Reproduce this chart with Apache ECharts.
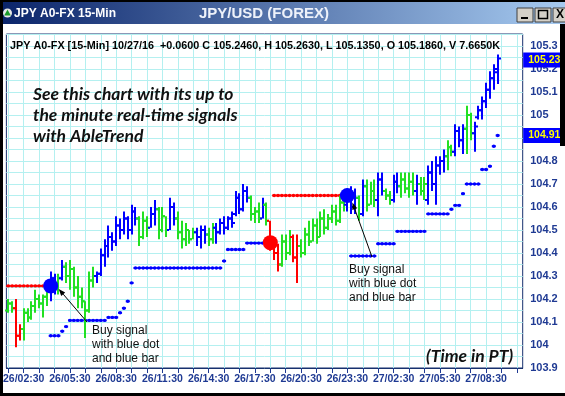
<!DOCTYPE html>
<html><head><meta charset="utf-8">
<script src="https://cdn.jsdelivr.net/npm/echarts@6/dist/echarts.min.js"></script>
<style>html,body{margin:0;padding:0;background:#fff;overflow:hidden}#c{width:565px;height:396px}</style>
</head><body><div id="c"></div>
<script>
// ---------- data ----------
const tickLabels = ['26/02:30','26/05:30','26/08:30','26/11:30','26/14:30','26/17:30','26/20:30','26/23:30','27/02:30','27/05:30','27/08:30'];
const yTicks = [103.9,104,104.1,104.2,104.3,104.4,104.5,104.6,104.7,104.8,104.9,105,105.1,105.2,105.3];
const highs = [
104.20,104.19,104.20,104.09,104.16,104.16,104.19,104.24,104.22,104.22,
104.26,104.32,104.31,104.31,104.37,104.36,104.37,104.34,104.30,104.25,
104.19,104.32,104.34,104.32,104.42,104.46,104.52,104.49,104.56,104.55,
104.58,104.56,104.61,104.60,104.56,104.58,104.56,104.60,104.63,104.60,
104.60,104.56,104.64,104.62,104.58,104.54,104.53,104.50,104.51,104.51,
104.52,104.52,104.51,104.53,104.53,104.55,104.56,104.56,104.58,104.67,
104.66,104.70,104.69,104.65,104.60,104.62,104.64,104.62,104.54,104.46,
104.44,104.48,104.48,104.50,104.48,104.48,104.46,104.51,104.54,104.55,
104.55,104.58,104.59,104.57,104.61,104.61,104.65,104.67,104.68,104.69,
104.68,104.65,104.72,104.72,104.71,104.72,104.75,104.75,104.68,104.67,
104.74,104.75,104.75,104.75,104.75,104.75,104.74,104.73,104.73,104.78,
104.80,104.82,104.82,104.85,104.89,104.87,104.96,104.95,104.96,105.04,
105.01,104.97,105.04,105.08,105.14,105.19,105.22,105.263];
const lows = [
104.14,104.14,103.99,104.02,104.02,104.10,104.11,104.14,104.16,104.12,
104.17,104.19,104.22,104.22,104.28,104.27,104.24,104.21,104.16,104.16,
104.03,104.14,104.25,104.27,104.30,104.34,104.38,104.41,104.43,104.46,
104.48,104.46,104.48,104.52,104.43,104.46,104.47,104.51,104.52,104.46,
104.49,104.47,104.50,104.52,104.46,104.42,104.43,104.44,104.46,104.43,
104.42,104.44,104.43,104.44,104.44,104.48,104.48,104.50,104.51,104.56,
104.57,104.58,104.62,104.54,104.53,104.53,104.55,104.52,104.41,104.37,
104.32,104.34,104.37,104.39,104.36,104.27,104.38,104.39,104.43,104.45,
104.44,104.47,104.48,104.50,104.53,104.52,104.53,104.58,104.58,104.57,
104.57,104.54,104.56,104.58,104.61,104.60,104.56,104.65,104.63,104.61,
104.62,104.66,104.64,104.66,104.64,104.65,104.61,104.65,104.63,104.61,
104.67,104.61,104.74,104.75,104.76,104.82,104.82,104.86,104.83,104.83,
104.89,104.84,104.98,104.98,105.03,105.07,105.11,105.135];
const opens = [
104.15,104.18,104.16,104.04,104.07,104.14,104.12,104.17,104.20,104.18,
104.21,104.24,104.29,104.26,104.29,104.34,104.30,104.33,104.25,104.21,
104.19,104.15,104.28,104.30,104.31,104.39,104.43,104.47,104.45,104.52,
104.50,104.55,104.50,104.58,104.55,104.47,104.54,104.51,104.57,104.59,
104.50,104.56,104.50,104.60,104.55,104.49,104.46,104.50,104.46,104.49,
104.47,104.50,104.48,104.46,104.51,104.49,104.53,104.51,104.55,104.57,
104.64,104.59,104.67,104.64,104.57,104.58,104.55,104.61,104.54,104.44,
104.40,104.35,104.45,104.40,104.47,104.38,104.43,104.40,104.48,104.45,
104.52,104.47,104.55,104.51,104.55,104.58,104.54,104.62,104.61,104.66,
104.60,104.64,104.57,104.69,104.61,104.67,104.63,104.72,104.67,104.65,
104.63,104.71,104.69,104.72,104.68,104.71,104.67,104.70,104.67,104.63,
104.75,104.70,104.78,104.80,104.82,104.86,104.84,104.93,104.89,104.94,
105.00,104.92,104.99,105.02,105.06,105.11,105.16,105.186];
const closes = [
104.18,104.16,104.04,104.07,104.14,104.12,104.17,104.20,104.18,104.21,
104.24,104.29,104.26,104.29,104.34,104.30,104.33,104.25,104.21,104.19,
104.15,104.28,104.30,104.31,104.39,104.43,104.47,104.45,104.52,104.50,
104.55,104.50,104.58,104.55,104.47,104.54,104.51,104.57,104.59,104.50,
104.56,104.50,104.60,104.55,104.49,104.46,104.50,104.46,104.49,104.47,
104.50,104.48,104.46,104.51,104.49,104.53,104.51,104.55,104.53,104.64,
104.59,104.67,104.64,104.57,104.58,104.55,104.61,104.54,104.44,104.40,
104.35,104.45,104.40,104.47,104.38,104.43,104.40,104.48,104.45,104.52,
104.47,104.55,104.51,104.55,104.58,104.54,104.62,104.64,104.66,104.60,
104.64,104.57,104.69,104.61,104.67,104.63,104.72,104.67,104.65,104.63,
104.71,104.69,104.72,104.68,104.71,104.67,104.70,104.67,104.70,104.75,
104.70,104.78,104.80,104.82,104.86,104.84,104.93,104.89,104.94,105.00,
104.92,104.95,105.02,105.06,105.11,105.16,105.20,105.246];
// trend colour of each bar: r = down, g = neutral, b = up
const trend = ('ggrrggggggg' + 'bbgbgggggggg' + 'bbbbbbbbbbb' + 'gggbbgggbbggggg' +
  'bbbggbbbbbbbbb' + 'gggbg' + 'rrr' + 'gggrr' + 'gggggggggggg' + 'bbbgbgggbbgg' +
  'bbggggbgg' + 'bbbbbggbbbggb' + 'bbbbbb').split('');
// AbleTrend stop dots: [firstBar, lastBar, level]
const stopBlue = [[11,13,104.04],[14,14,104.06],[15,15,104.08],[16,25,104.107],[26,28,104.12],
  [29,29,104.14],[30,30,104.16],[31,31,104.19],[32,32,104.27],[33,55,104.335],[56,56,104.365],
  [57,61,104.415],[62,67,104.443],[89,95,104.387],[96,100,104.44],[101,108,104.494],
  [109,114,104.57],[115,115,104.59],[116,117,104.607],[118,118,104.658],[119,122,104.70],
  [123,124,104.763],[125,125,104.777],[126,126,104.864],[127,127,104.911]];
const stopRed = [[0,10,104.257],[69,87,104.65]];
// signal dots: [bar, level, colour]
const signals = [[11,104.257,'b'],[68,104.445,'r'],[88,104.65,'b']];
// right-hand value flags
const flags = [105.239, 104.911];

// ---------- build ----------
const N_CAT = 134;
const categories = [];
for (let i = 0; i < N_CAT; i++) {
  const m = 90 + 15 * i; const d = 26 + Math.floor(m / 1440); const mm = m % 1440;
  categories.push(d + '/' + String(Math.floor(mm / 60)).padStart(2, '0') + ':' + String(mm % 60).padStart(2, '0'));
}
const COLORS = {r:'#ff0000', g:'#22e022', b:'#0000ff'};
const CIDX = {r:0, g:1, b:2};
const CLIST = ['#ff0000', '#22e022', '#0000ff'];
const ohlcData = highs.map((h, i) => [i, opens[i], closes[i], lows[i], h, CIDX[trend[i]]]);
const stopData = [];
stopBlue.forEach(s => { for (let i = s[0]; i <= s[1]; i++) stopData.push([i, s[2], 2]); });
stopRed.forEach(s => { for (let i = s[0]; i <= s[1]; i++) stopData.push([i, s[2], 0]); });

const chart = echarts.init(document.getElementById('c'), null, {renderer: 'canvas'});
const AX = '#1f3a93';
const GRIDC = '#b4f0f0';
const FONT = 'Liberation Sans, Arial, sans-serif';

function arrow(x1, y1, x2, y2) {
  const dx = x2 - x1, dy = y2 - y1, L = Math.hypot(dx, dy), ux = dx / L, uy = dy / L;
  const bx = x2 - 7 * ux, by = y2 - 7 * uy, px = -uy * 2.6, py = ux * 2.6;
  return [
    {type: 'line', shape: {x1: x1, y1: y1, x2: bx, y2: by}, style: {stroke: '#000', lineWidth: 1}, z: 50},
    {type: 'polygon', shape: {points: [[x2, y2], [bx + px, by + py], [bx - px, by - py]]}, style: {fill: '#000'}, z: 50}
  ];
}

const option = {
  animation: false,
  backgroundColor: '#ffffff',
  grid: {left: 5, right: 42.3, top: 34, bottom: 28, show: true, borderColor: '#17306e', borderWidth: 1, backgroundColor: 'transparent'},
  xAxis: {
    type: 'category', data: categories, boundaryGap: true,
    axisLine: {show: true, lineStyle: {color: '#17306e'}},
    axisTick: {show: true, alignWithLabel: true, length: 5, interval: (i) => i % 4 === 0, lineStyle: {color: AX}},
    axisLabel: {interval: (i, v) => tickLabels.indexOf(v) >= 0, color: AX, fontWeight: 'bold', fontSize: 10.5, fontFamily: FONT, margin: 6},
    splitLine: {show: true, alignWithLabel: true, interval: (i) => i % 4 === 0, lineStyle: {color: GRIDC, width: 1}}
  },
  yAxis: {
    type: 'value', position: 'right', min: 103.9, max: 105.352, interval: 0.1,
    axisLine: {show: false}, axisTick: {show: false},
    axisLabel: {showMaxLabel: false, showMinLabel: true, color: AX, fontWeight: 'bold', fontSize: 11, fontFamily: FONT, margin: 7.5, align: 'left',
      formatter: v => { const r = Math.round(v * 10) / 10; return yTicks.indexOf(r) >= 0 ? String(r) : ''; }},
    splitLine: {show: true, lineStyle: {color: GRIDC}},
    minorTick: {show: false, splitNumber: 2},
    minorSplitLine: {show: true, lineStyle: {color: GRIDC}}
  },
  series: [
    {
      type: 'custom', name: 'stops', z: 3, data: stopData, encode: {x: 0, y: 1},
      renderItem: (params, api) => {
        const p = api.coord([api.value(0), api.value(1)]);
        const c = CLIST[api.value(2)];
        return {type: 'group', children: [
          {type: 'rect', shape: {x: p[0] - 2, y: p[1] - 1, width: 4, height: 2}, style: {fill: c}},
          {type: 'circle', shape: {cx: p[0], cy: p[1], r: 1.7}, style: {fill: c}}
        ]};
      }
    },
    {
      type: 'custom', name: 'ohlc', z: 4, data: ohlcData, encode: {x: 0, y: [1, 2, 3, 4]},
      renderItem: (params, api) => {
        const i = api.value(0);
        const pH = api.coord([i, api.value(4)]);
        const pL = api.coord([i, api.value(3)]);
        const pO = api.coord([i, api.value(1)]);
        const pC = api.coord([i, api.value(2)]);
        const c = CLIST[api.value(5)];
        const x = Math.round(pH[0]);
        return {type: 'group', children: [
          {type: 'rect', shape: {x: x - 1, y: pH[1], width: 2, height: Math.max(2, pL[1] - pH[1])}, style: {fill: c}},
          {type: 'rect', shape: {x: x - 3, y: pO[1] - 1, width: 2, height: 2}, style: {fill: c}},
          {type: 'rect', shape: {x: x + 1, y: pC[1] - 1, width: 2, height: 2}, style: {fill: c}}
        ]};
      }
    },
    {
      type: 'scatter', name: 'signals', z: 5, symbolSize: 15,
      data: signals.map(s => ({value: [s[0], s[1]], itemStyle: {color: COLORS[s[2]], opacity: 1}}))
    }
  ],
  graphic: []
};
chart.setOption(option);

const p1 = chart.convertToPixel({gridIndex: 0}, [signals[0][0], signals[0][1]]);
const p2 = chart.convertToPixel({gridIndex: 0}, [signals[2][0], signals[2][1]]);
const gridRight = 565 - 42.3;

const flagEls = [];
flags.forEach(v => {
  const y = chart.convertToPixel({yAxisIndex: 0}, v);
  flagEls.push({type: 'rect', shape: {x: gridRight + 0.5, y: y - 7.5, width: 45, height: 15}, style: {fill: '#0000ff'}, z: 30});
  flagEls.push({type: 'text', x: gridRight + 5.5, y: y, style: {text: String(v), fill: '#ffff00', font: 'bold 10.5px "Liberation Sans", Arial, sans-serif', textVerticalAlign: 'middle'}, z: 31});
});

const g = [
  // window chrome
  {type: 'rect', shape: {x: 0, y: 0, width: 565, height: 24}, style: {fill: new echarts.graphic.LinearGradient(0, 0, 1, 0, [{offset: 0, color: '#0a246a'}, {offset: 1, color: '#a6caf0'}])}, z: 20},
  {type: 'rect', shape: {x: 0, y: 0, width: 565, height: 2}, style: {fill: '#000'}, z: 21},
  {type: 'rect', shape: {x: 0, y: 0, width: 3, height: 396}, style: {fill: '#000'}, z: 21},
  {type: 'rect', shape: {x: 0, y: 393, width: 565, height: 3}, style: {fill: '#000'}, z: 21},
  {type: 'rect', shape: {x: 560, y: 24, width: 5, height: 122}, style: {fill: '#000'}, z: 32},
  {type: 'circle', shape: {cx: 7.5, cy: 13, r: 4.5}, style: {fill: '#e8e8e8'}, z: 22},
  {type: 'polygon', shape: {points: [[7.5, 9.5], [10.8, 15.5], [4.2, 15.5]]}, style: {fill: '#1a9a2a'}, z: 23},
  {type: 'text', x: 14, y: 14, style: {text: 'JPY A0-FX 15-Min', fill: '#fff', font: 'bold 12px "Liberation Sans", Arial, sans-serif', textVerticalAlign: 'middle'}, z: 22},
  {type: 'text', x: 264, y: 14, style: {text: 'JPY/USD (FOREX)', fill: '#eef2fa', font: 'bold 15px "Liberation Sans", Arial, sans-serif', textAlign: 'center', textVerticalAlign: 'middle'}, z: 22},
  {type: 'rect', shape: {x: 517, y: 8, width: 16, height: 14}, style: {fill: '#d4d0c8', stroke: '#404040', lineWidth: 1}, z: 22},
  {type: 'rect', shape: {x: 521, y: 17, width: 7, height: 2}, style: {fill: '#000'}, z: 23},
  {type: 'rect', shape: {x: 535, y: 8, width: 16, height: 14}, style: {fill: '#d4d0c8', stroke: '#404040', lineWidth: 1}, z: 22},
  {type: 'rect', shape: {x: 538.5, y: 10.5, width: 9, height: 8}, style: {fill: 'none', stroke: '#000', lineWidth: 1.5}, z: 23},
  {type: 'rect', shape: {x: 553, y: 8, width: 16, height: 14}, style: {fill: '#d4d0c8', stroke: '#404040', lineWidth: 1}, z: 22},
  {type: 'text', x: 556, y: 15, style: {text: 'X', fill: '#000', font: 'bold 12px "Liberation Sans", sans-serif', textVerticalAlign: 'middle'}, z: 23},
  // header line
  {type: 'text', x: 10, y: 46, style: {text: 'JPY A0-FX [15-Min] 10/27/16  +0.0600 C 105.2460, H 105.2630, L 105.1350, O 105.1860, V 7.6650K', fill: '#000', font: 'bold 10.8px "Liberation Sans", Arial, sans-serif', textVerticalAlign: 'middle'}, z: 10},
  // promo text
  {type: 'text', x: 33, y: 94, style: {text: 'See this chart with its up to', fill: '#111', font: 'italic bold 17.5px Lato, sans-serif', textVerticalAlign: 'middle'}, z: 10},
  {type: 'text', x: 33, y: 115, style: {text: 'the minute real-time signals', fill: '#111', font: 'italic bold 17.5px Lato, sans-serif', textVerticalAlign: 'middle'}, z: 10},
  {type: 'text', x: 33, y: 136, style: {text: 'with AbleTrend', fill: '#111', font: 'italic bold 17.5px Lato, sans-serif', textVerticalAlign: 'middle'}, z: 10},
  {type: 'text', x: 426, y: 356, style: {text: '(Time in PT)', fill: '#111', font: 'italic bold 17.5px Lato, sans-serif', textVerticalAlign: 'middle'}, z: 10},
  // signal notes
  {type: 'text', x: 92, y: 331, style: {text: 'Buy signal', fill: '#111', font: '12px "Liberation Sans", Arial, sans-serif', textVerticalAlign: 'middle'}, z: 10},
  {type: 'text', x: 92, y: 345, style: {text: 'with blue dot', fill: '#111', font: '12px "Liberation Sans", Arial, sans-serif', textVerticalAlign: 'middle'}, z: 10},
  {type: 'text', x: 92, y: 359, style: {text: 'and blue bar', fill: '#111', font: '12px "Liberation Sans", Arial, sans-serif', textVerticalAlign: 'middle'}, z: 10},
  {type: 'text', x: 349, y: 270, style: {text: 'Buy signal', fill: '#111', font: '12px "Liberation Sans", Arial, sans-serif', textVerticalAlign: 'middle'}, z: 10},
  {type: 'text', x: 349, y: 284, style: {text: 'with blue dot', fill: '#111', font: '12px "Liberation Sans", Arial, sans-serif', textVerticalAlign: 'middle'}, z: 10},
  {type: 'text', x: 349, y: 298, style: {text: 'and blue bar', fill: '#111', font: '12px "Liberation Sans", Arial, sans-serif', textVerticalAlign: 'middle'}, z: 10}
].concat(flagEls).concat(arrow(87, 322, p1[0] + 8, p1[1] + 3)).concat(arrow(372, 257, p2[0] + 5, p2[1] + 7));
chart.setOption({graphic: g});
</script></body></html>
